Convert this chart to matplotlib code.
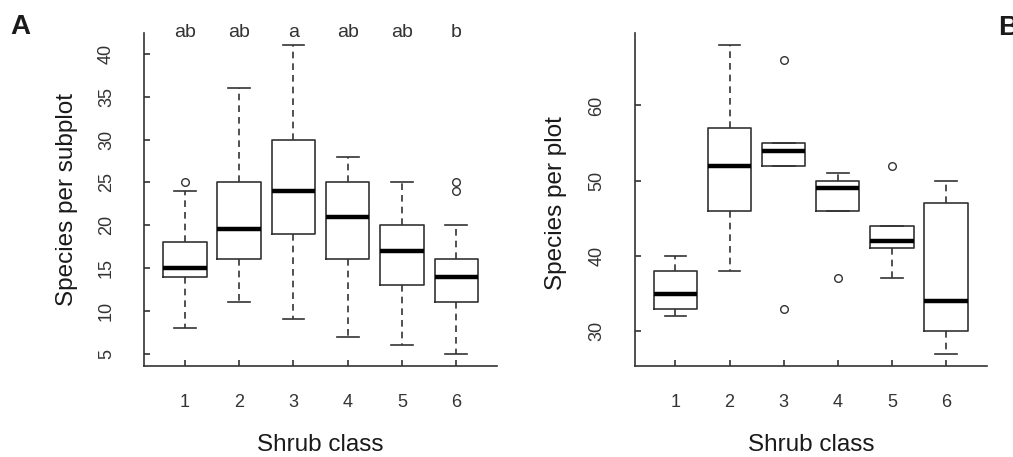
import matplotlib
matplotlib.use('Agg')
import matplotlib.pyplot as plt
import matplotlib.transforms as mtransforms

plt.rcParams['font.family'] = ['Liberation Sans', 'DejaVu Sans']

classes = [1, 2, 3, 4, 5, 6]

# panel A: species per subplot (whisker low, Q1, median, Q3, whisker high)
a_low = [8, 11, 9, 7, 6, 5]
a_q1 = [14, 16, 19, 16, 13, 11]
a_med = [15, 19.5, 24, 21, 17, 14]
a_q3 = [18, 25, 30, 25, 20, 16]
a_high = [24, 36, 41, 28, 25, 20]
a_out = [[25], [], [], [], [], [24, 25]]
a_letters = ['ab', 'ab', 'a', 'ab', 'ab', 'b']

# panel B: species per plot
b_low = [32, 38, 52, 46, 37, 27]
b_q1 = [33, 46, 52, 46, 41, 30]
b_med = [35, 52, 54, 49, 42, 34]
b_q3 = [38, 57, 55, 50, 44, 47]
b_high = [40, 68, 55, 51, 44, 50]
b_out = [[], [], [66, 33], [37], [52], []]

line_col = '#333333'
text_col = '#333333'


def make_stats(low, q1, med, q3, high, out):
    stats = []
    for i in range(len(low)):
        stats.append({'whislo': low[i], 'q1': q1[i], 'med': med[i], 'q3': q3[i],
                      'whishi': high[i], 'fliers': out[i]})
    return stats


def draw_panel(ax, stats, ylim, yticks, ylabel):
    ax.bxp(stats, positions=classes, widths=0.8, showfliers=True,
           boxprops=dict(color=line_col, linewidth=1.2),
           medianprops=dict(color='black', linewidth=3.2, solid_capstyle='butt'),
           whiskerprops=dict(color=line_col, linewidth=1.2, linestyle=(0, (4, 3))),
           capprops=dict(color=line_col, linewidth=1.2),
           capwidths=0.4,
           flierprops=dict(marker='o', markersize=5.5, markerfacecolor='none',
                           markeredgecolor=line_col, markeredgewidth=1.0))
    ax.set_xlim(0.25, 6.75)
    ax.set_ylim(*ylim)
    ax.set_xticks(classes)
    ax.set_xticklabels([str(c) for c in classes])
    ax.set_yticks(yticks)
    ax.set_yticklabels([str(t) for t in yticks], rotation=90, va='center')
    for s in ['top', 'right']:
        ax.spines[s].set_visible(False)
    for s in ['left', 'bottom']:
        ax.spines[s].set_color(line_col)
        ax.spines[s].set_linewidth(1.2)
    ax.tick_params(axis='both', direction='in', length=4, width=1.2,
                   color=line_col, labelcolor=text_col, labelsize=13)
    ax.tick_params(axis='y', pad=21)
    ax.tick_params(axis='x', pad=20)
    ax.set_xlabel('Shrub class', fontsize=17.5, color='#1a1a1a')
    ax.set_ylabel(ylabel, fontsize=17.5, color='#1a1a1a', va='center')
    ax.xaxis.set_label_coords(0.5, -0.205)
    ax.yaxis.set_label_coords(-0.218, 0.5)


fig = plt.figure(figsize=(10.13, 4.57), dpi=100)
ax1 = fig.add_axes([0.1422, 0.1991, 0.3485, 0.7287])
ax2 = fig.add_axes([0.6266, 0.1991, 0.3475, 0.7287])

draw_panel(ax1, make_stats(a_low, a_q1, a_med, a_q3, a_high, a_out),
           (3.56, 42.44), [5, 10, 15, 20, 25, 30, 35, 40], 'Species per subplot')
draw_panel(ax2, make_stats(b_low, b_q1, b_med, b_q3, b_high, b_out),
           (25.36, 69.64), [30, 40, 50, 60], 'Species per plot')
ax2.yaxis.set_label_coords(-0.224, 0.49)

# significance letters above panel A
trans = mtransforms.blended_transform_factory(ax1.transData, ax1.transAxes)
for c, lab in zip(classes, a_letters):
    ax1.text(c, 1.0, lab, transform=trans, ha='center', va='center',
             fontsize=14, color=text_col)

fig.text(10 / 1013, 1 - 34 / 457, 'A', fontsize=20, fontweight='bold',
         color='#1a1a1a', ha='left', va='baseline')
fig.text(998 / 1013, 1 - 35 / 457, 'B', fontsize=20, fontweight='bold',
         color='#1a1a1a', ha='left', va='baseline')

fig.savefig('out.png', dpi=100)
